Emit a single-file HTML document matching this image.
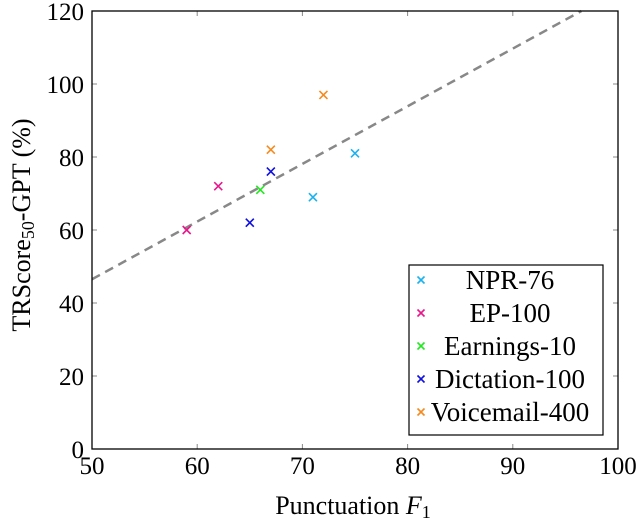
<!DOCTYPE html>
<html><head><meta charset="utf-8"><style>
body{margin:0;background:#fff;}
svg{display:block;font-family:"Liberation Serif",serif;}
</style></head><body>
<svg id="chart" width="640" height="519"></svg>
<script>
const xTicks=[50,60,70,80,90,100];
const yTicks=[0,20,40,60,80,100,120];
const seriesNames=["NPR-76","EP-100","Earnings-10","Dictation-100","Voicemail-400"];
const seriesColors=["#1ab2f0","#e8178c","#22e822","#1010e0","#f58a20"];
const npr76X=[71,75], npr76Y=[69,81];
const ep100X=[59,62], ep100Y=[60,72];
const earnings10X=[66], earnings10Y=[71];
const dictation100X=[65,67], dictation100Y=[62,76];
const voicemail400X=[67,72], voicemail400Y=[82,97];
const fitIntercept=46.5, fitSlope=1.58; // y at x=50, slope
const allX=[npr76X,ep100X,earnings10X,dictation100X,voicemail400X];
const allY=[npr76Y,ep100Y,earnings10Y,dictation100Y,voicemail400Y];

const L=92,R=618,T=11,B=449;
const sx=v=>L+(v-50)/50*(R-L);
const sy=v=>B-v/120*(B-T);
const svg=document.getElementById('chart');
const NS='http://www.w3.org/2000/svg';
function mk(tag,attrs,parent){const e=document.createElementNS(NS,tag);for(const k in attrs)e.setAttribute(k,attrs[k]);(parent||svg).appendChild(e);return e;}

xTicks.forEach(v=>{
  const x=sx(v);
  const t1=mk('line',{x1:x,x2:x,y1:B,y2:B-5,stroke:'#888','stroke-width':1});
  
  
  mk('line',{x1:x,x2:x,y1:T,y2:T+5,stroke:'#888','stroke-width':1});
  const tx=mk('text',{x:x,y:B+25,'text-anchor':'middle','font-size':25});
  tx.textContent=v;
  
  
});
yTicks.forEach(v=>{
  const y=sy(v);
  const t1=mk('line',{x1:L,x2:L+5,y1:y,y2:y,stroke:'#888','stroke-width':1});
  
  
  mk('line',{x1:R,x2:R-5,y1:y,y2:y,stroke:'#888','stroke-width':1});
  const tx=mk('text',{x:L-8,y:y+9,'text-anchor':'end','font-size':25});
  tx.textContent=v;
  
  
});

const xEnd=Math.min(100,50+(120-fitIntercept)/fitSlope);
const fl=mk('line',{x1:sx(50),y1:sy(fitIntercept),x2:sx(xEnd),y2:sy(fitIntercept+fitSlope*(xEnd-50)),stroke:'#888','stroke-width':2.5,'stroke-dasharray':'9,6'});



function cross(cx,cy,s,color,parent){
  const g=mk('g',{stroke:color,'stroke-width':1.6},parent);
  mk('line',{x1:cx-s,y1:cy-s,x2:cx+s,y2:cy+s},g);
  mk('line',{x1:cx-s,y1:cy+s,x2:cx+s,y2:cy-s},g);
  return g;
}
allX.forEach((xs,i)=>{
  xs.forEach((xv,j)=>{
    const g=cross(sx(xv),sy(allY[i][j]),4,seriesColors[i]);
    
    
  });
});

const fr=mk('rect',{x:L,y:T,width:R-L,height:B-T,fill:'none',stroke:'#000','stroke-width':1.3});



const lg=mk('g',{});


mk('rect',{x:409,y:265,width:194,height:170,fill:'#fff',stroke:'#000','stroke-width':1.2},lg);
seriesNames.forEach((n,i)=>{
  const y=280+i*33;
  const e=mk('g',{},lg);
  
  
  cross(421,y,3.5,seriesColors[i],e);
  const t=mk('text',{x:510,y:y+9,'text-anchor':'middle','font-size':27},e);
  t.textContent=n;
});

const xt=mk('text',{x:353,y:514,'text-anchor':'middle','font-size':26});
xt.innerHTML='Punctuation <tspan font-style="italic">F</tspan><tspan font-size="18" dy="4">1</tspan>';


const yt=mk('text',{x:0,y:0,'text-anchor':'middle','font-size':26,transform:'translate(30,225) rotate(-90)'});
yt.innerHTML='TRScore<tspan font-size="18" dy="4">50</tspan><tspan dy="-4">-GPT (%)</tspan>';


</script>
</body></html>
